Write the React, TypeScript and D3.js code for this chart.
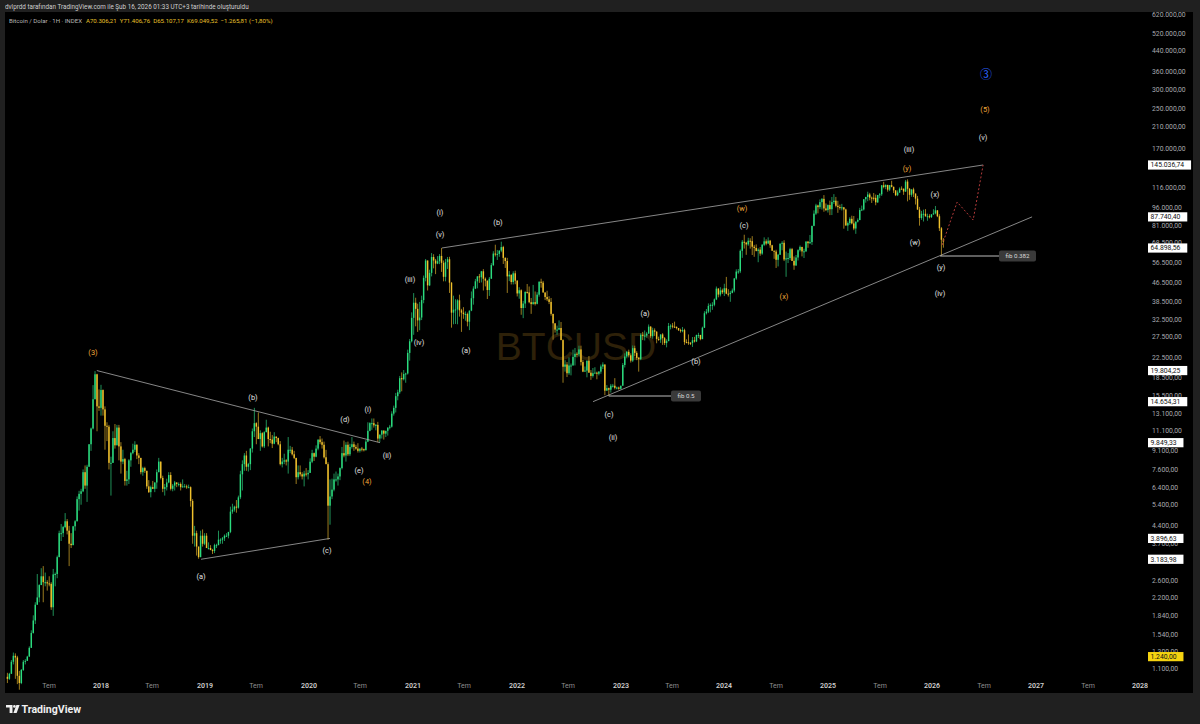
import React from 'react';
import * as d3 from 'd3';

type Week = [number, number, number]; // high, low, close

const FIRST_WEEK = Date.UTC(2017, 1, 6);
const FIRST_OPEN = 1020;

const w2017: Week[] = [
  [1060, 960, 1000], [1060, 990, 1050], [1200, 1050, 1180], [1290, 1150, 1250],
  [1280, 1000, 1230], [1250, 950, 1030], [1080, 900, 960], [1100, 950, 1090],
  [1200, 1080, 1180], [1210, 1150, 1190], [1250, 1190, 1240], [1370, 1240, 1350],
  [1600, 1350, 1560], [1850, 1550, 1760], [2100, 1700, 2050], [2760, 2050, 2200], [2500, 2100, 2480],
  [2920, 2480, 2700], [2980, 2100, 2550], [2800, 2450, 2550], [2600, 2350, 2520],
  [2700, 2450, 2510], [2550, 1950, 2000], [2900, 1840, 2750], [2800, 2450, 2760], [3300, 2650, 3250],
  [4200, 3250, 4100], [4480, 3800, 4100], [4400, 3950, 4350], [4980, 4300, 4600],
  [4700, 4050, 4200], [4400, 2980, 3700], [4100, 3550, 3650], [4400, 3650, 4380],
  [4650, 4200, 4600], [5850, 4600, 5700], [6180, 5100, 6000], [6300, 5400, 6150], [7600, 6100, 7400],
  [7900, 6300, 6500], [7950, 5550, 7800], [9700, 7800, 9700], [11400, 9100, 11300],
  [17200, 11200, 15000], [19700, 15000, 19100], [19200, 11000, 14000], [16500, 13400, 13800],
];
const w2018: Week[] = [
  [17250, 12800, 16400], [16500, 12800, 13600], [14000, 9200, 11600], [12000, 10000, 11500], [11700, 7600, 8100],
  [8600, 5900, 8100], [11000, 8100, 10300], [11800, 9300, 9600], [11700, 9600, 11400],
  [11700, 8300, 9500], [9900, 7300, 8200], [9200, 8000, 8400], [8500, 6500, 6800],
  [7500, 6500, 6900], [8400, 6600, 8300], [9000, 7800, 8900], [9750, 8800, 9200], [9990, 9000, 9650],
  [9700, 8400, 8700], [8900, 8000, 8500], [8500, 7250, 7400], [7800, 7150, 7700],
  [7800, 7350, 7500], [7000, 6300, 6450], [6850, 6050, 6100], [6500, 5800, 6400],
  [6800, 6300, 6300], [6700, 6100, 6700], [7600, 6300, 7400], [8500, 7400, 8200], [8200, 6900, 7000],
  [7150, 6100, 6300], [6600, 5900, 6400], [6950, 6200, 6700], [7400, 6650, 7200],
  [7400, 6200, 6300], [6600, 6150, 6500], [6800, 6200, 6700], [6700, 6400, 6600],
  [6700, 6450, 6600], [6700, 6200, 6400], [6900, 6380, 6450], [6600, 6400, 6450], [6560, 6300, 6400],
  [6560, 6350, 6400], [6450, 5300, 5600], [5700, 3700, 4000], [4400, 3600, 4100],
  [4200, 3300, 3600], [3600, 3200, 3250], [4200, 3250, 4000], [4250, 3600, 3700], [4100, 3650, 4000],
];
const w2019: Week[] = [
  [4100, 3550, 3550], [3750, 3500, 3550], [3650, 3480, 3480], [3520, 3350, 3450],
  [3700, 3380, 3650], [3700, 3550, 3650], [4200, 3650, 3850], [3900, 3700, 3850],
  [3950, 3700, 3900], [4050, 3800, 4000], [4100, 3950, 4000], [4150, 3900, 4150],
  [5300, 4100, 5050], [5450, 4950, 5150], [5350, 5050, 5300], [5650, 5000, 5250], [5900, 5200, 5800],
  [7500, 5700, 7250], [8300, 6200, 8000], [8900, 7500, 8700], [9100, 7500, 7800],
  [8100, 7450, 8000], [9350, 7550, 9300], [11300, 8950, 11000], [13800, 10400, 11900],
  [12000, 9700, 11500], [13200, 10200, 10200], [11100, 9100, 10800], [10900, 9400, 9500], [11000, 9350, 10900],
  [12300, 10900, 11400], [11500, 9500, 10200], [10950, 9800, 10150], [10600, 9350, 9750],
  [10900, 9700, 10450], [10450, 9900, 10300], [10350, 9600, 9700], [10000, 7900, 8000], [8500, 7750, 8200],
  [8850, 8000, 8300], [8400, 7900, 8200], [10400, 7300, 9200], [9550, 8900, 9200],
  [9450, 8700, 8800], [9100, 8400, 8500], [8500, 6600, 7050], [7900, 6900, 7400],
  [7900, 7100, 7250], [7400, 6900, 7100], [7500, 6450, 7300], [7700, 7100, 7250], [7550, 6900, 7350],
];
const w2020: Week[] = [
  [8460, 7700, 8190], [9190, 8080, 8900], [8950, 8250, 8600], [9600, 8550, 9300],
  [10150, 9150, 10150], [10500, 9700, 9900], [10250, 9300, 9650], [9950, 8450, 8550],
  [9190, 8400, 8000], [8150, 3850, 5350], [6900, 4450, 5850], [6950, 5700, 6250], [7300, 6150, 6900],
  [7450, 6750, 6900], [7300, 6500, 7100], [7750, 6850, 7700], [9450, 7600, 8900],
  [10050, 8550, 8700], [9900, 8200, 9650], [9950, 8650, 8800], [9750, 8650, 9450],
  [10400, 9300, 9700], [9950, 9100, 9450], [9650, 9200, 9300], [9800, 8950, 9100], [9300, 8950, 9300],
  [9450, 9050, 9250], [9300, 9050, 9150], [10100, 9150, 9950], [12000, 9900, 11050],
  [12000, 11000, 11900], [12450, 11150, 11900], [12450, 11400, 11650], [11800, 11100, 11700], [12050, 9900, 10250],
  [10600, 9900, 10650], [11100, 10250, 11080], [11000, 10150, 10750], [10950, 10400, 11050],
  [11450, 10550, 11380], [11700, 11200, 11500], [13350, 11400, 13050], [14100, 12800, 13800],
  [15950, 13200, 15450], [16450, 14850, 16050], [18800, 15800, 18400], [19450, 16200, 18200], [19900, 18000, 19150],
  [19400, 17600, 19250], [24250, 19050, 23500], [26900, 21800, 26300], [34800, 26000, 33000],
];
const w2021: Week[] = [
  [41950, 28000, 38200], [40100, 30400, 36000], [37850, 28800, 32200], [38500, 29250, 33100],
  [40900, 32300, 39200], [49700, 38000, 48600], [58350, 47000, 57500], [57500, 43000, 45200],
  [52600, 44900, 51000], [61800, 49300, 59500], [61100, 53300, 57500], [58400, 50400, 55800], [60000, 55500, 57100],
  [61200, 55500, 60100], [64900, 51500, 56200], [57500, 47000, 49100], [58400, 47000, 56600],
  [59500, 53000, 58200], [59600, 42000, 46400], [46600, 30000, 34700], [40900, 31000, 35700], [39500, 31100, 35800],
  [39500, 31000, 39100], [41300, 33400, 35500], [36000, 28800, 34700], [36600, 32700, 34200],
  [35100, 32100, 34250], [34700, 30400, 31800], [35400, 29300, 35400], [42600, 35200, 39900],
  [44800, 37500, 43800], [48100, 43600, 47000], [49400, 43900, 49300], [50500, 46300, 48900], [52000, 46500, 51800],
  [52900, 43000, 48200], [48800, 44750, 47300], [47400, 39600, 43200], [49000, 40800, 48200],
  [56100, 48200, 55000], [62900, 54500, 61500], [67000, 59800, 61000], [63700, 57800, 61300],
  [63400, 59600, 63300], [69000, 62300, 65500], [66300, 55600, 59000], [59300, 53500, 57200], [59000, 42000, 49300],
  [51900, 47100, 50100], [50200, 45600, 46700], [51800, 45600, 50800], [52100, 45700, 47300],
];
const w2022: Week[] = [
  [47500, 40600, 41800], [44400, 39700, 43100], [43500, 34000, 36300], [38900, 32900, 37900], [42700, 36300, 42400],
  [45800, 41700, 42200], [44700, 38000, 38400], [40000, 34300, 37700], [45400, 37500, 38400],
  [42600, 37200, 37800], [42300, 37600, 41300], [47000, 40500, 46800], [48200, 44200, 46400],
  [47200, 42100, 42200], [41500, 39200, 40400], [42900, 38800, 39500], [40700, 37700, 38500],
  [40000, 33700, 34300], [34300, 26700, 31300], [31300, 28600, 29450], [30600, 28000, 29450], [32200, 29300, 29900],
  [31700, 26600, 26600], [26800, 17600, 20550], [21900, 19600, 21000], [21500, 18600, 19300],
  [22500, 19000, 20800], [21200, 18900, 20800], [24250, 20800, 22600], [24650, 20800, 23300],
  [23650, 22500, 23200], [25200, 22700, 24300], [25200, 20800, 21500], [22000, 19500, 19600], [20600, 19600, 19800],
  [21800, 18550, 21800], [22800, 19400, 19400], [19900, 18100, 18800], [20300, 18500, 19300],
  [20450, 19300, 19400], [19600, 18200, 19200], [19700, 18900, 19600], [21000, 19200, 20600], [21450, 20100, 21000],
  [21000, 15600, 16300], [17200, 16300, 16700], [16800, 15480, 16450], [17400, 16000, 17100],
  [17400, 16800, 17100], [18400, 16500, 16750], [16950, 16500, 16800], [16950, 16450, 16600],
];
const w2023: Week[] = [
  [17100, 16500, 17100], [21300, 17100, 20900], [23400, 20400, 22700], [23950, 22300, 23750], [24250, 22500, 22950],
  [23400, 21400, 21800], [25250, 21500, 24600], [25200, 22800, 23500], [23900, 21900, 22400],
  [22600, 19600, 22100], [28400, 21900, 28000], [28800, 26600, 27800], [29200, 26500, 27800],
  [28800, 27250, 28350], [30950, 28200, 30300], [30450, 27150, 27600], [30000, 26950, 29250],
  [29800, 27700, 28850], [29000, 25800, 26900], [27500, 26400, 26750], [27500, 25900, 28100], [28450, 25400, 27100],
  [27400, 25350, 25850], [26800, 24800, 26350], [31400, 26300, 30500], [31000, 29500, 30600],
  [31400, 29800, 30300], [31800, 29950, 30250], [30350, 29500, 29900], [29900, 29050, 29300], [29700, 28600, 29050],
  [30200, 28700, 29300], [29700, 25400, 26100], [26800, 25800, 26050], [28100, 25400, 25900],
  [26100, 25350, 25850], [27400, 24900, 26550], [27450, 26000, 26250], [28050, 26100, 27950],
  [28550, 27150, 27950], [28000, 26550, 26850], [30300, 26900, 30000], [35200, 29900, 34500], [35950, 34100, 35050],
  [37950, 34550, 37050], [37950, 34800, 37400], [38400, 35650, 37450], [39800, 36900, 39450],
  [44700, 39200, 43800], [44000, 40250, 41350], [44400, 40600, 43050], [43800, 41550, 42250],
];
const w2024: Week[] = [
  [45900, 40750, 43950], [49050, 41500, 41700], [43550, 40550, 41550], [42850, 38550, 42050], [43850, 41850, 43000],
  [48550, 42250, 48300], [52800, 47700, 51650], [52950, 50550, 51750], [64000, 50900, 63150],
  [70150, 59000, 68950], [73800, 64550, 68400], [68900, 60750, 67200], [71650, 66300, 69650],
  [71350, 64500, 69350], [72800, 60650, 65700], [66900, 59600, 64950], [67200, 62800, 63100], [64750, 56550, 63900],
  [65500, 60200, 61500], [67450, 60750, 66950], [71950, 66100, 69250], [70600, 66650, 67750],
  [71950, 67650, 69650], [70200, 65050, 66650], [66950, 63350, 63200], [63350, 58450, 62700],
  [63800, 53500, 57900], [61300, 54300, 60800], [68000, 60700, 67600], [69350, 63500, 68250], [70000, 57200, 58100],
  [62700, 49100, 58700], [61800, 56100, 58900], [65000, 57800, 64200], [64950, 57200, 57300],
  [59800, 52550, 54800], [60650, 54600, 59200], [64100, 57500, 63550], [66500, 62700, 65600], [65550, 59850, 62800],
  [64450, 58900, 62850], [69400, 62450, 69000], [69500, 65050, 68000], [73600, 67450, 68750],
  [80250, 66850, 80450], [93450, 80200, 90550], [99600, 89400, 98000], [98700, 90800, 96400],
  [103900, 94600, 101200], [105250, 94150, 104450], [108350, 92200, 95200], [99950, 92800, 93700], [99000, 91500, 98350],
];
const w2025: Week[] = [
  [102700, 89250, 94500], [106400, 89300, 101300], [109350, 99450, 102600], [106450, 96200, 97700],
  [102500, 91250, 96500], [98800, 94100, 96100], [99500, 93400, 96250], [96500, 78250, 94250],
  [95000, 81500, 80700], [84000, 76600, 82600], [87450, 81200, 86100], [88750, 81600, 82350], [88500, 77150, 78400],
  [83600, 74450, 83800], [86450, 83100, 85050], [95750, 85100, 93750], [97900, 92800, 94300],
  [104150, 93350, 104100], [105800, 100700, 106450], [111950, 102150, 109000], [110700, 103000, 105700],
  [106800, 100400, 105600], [110600, 102700, 105500], [108900, 98200, 101000], [108500, 100400, 108400], [110500, 105100, 109200],
  [119500, 107500, 119100], [123200, 115700, 117300], [120250, 114700, 119450], [119800, 112000, 114200],
  [119300, 112650, 119300], [124450, 116800, 117400], [117600, 110600, 113450], [113500, 107300, 108250],
  [113400, 107300, 111150], [116800, 110600, 115300], [117900, 114500, 115250], [115500, 108600, 112150], [125500, 111800, 123500],
  [126200, 102000, 115150], [116000, 103500, 108650], [114000, 106600, 114500], [116400, 106300, 110000],
  [110000, 98900, 104700], [107500, 94000, 94200], [96650, 80600, 86800], [93000, 85300, 90400],
  [94100, 83900, 90400], [94600, 88000, 88200], [90500, 84500, 88300], [90000, 86500, 87700], [90000, 86800, 89900],
];
const w2026: Week[] = [
  [94500, 89500, 90800], [97500, 90000, 93500], [93500, 87500, 88300], [90000, 76500, 78600],
  [79500, 60107, 70300], [71406, 65107, 69049],
];

const priceTicks = [
  620000, 520000, 440000, 360000, 300000, 250000, 210000, 170000, 116000, 96000, 81000, 68500,
  56500, 46500, 38500, 32500, 27500, 22500, 18500, 15500, 13100, 11100, 9100, 7600, 6400, 5400,
  4400, 3700, 2600, 2200, 1840, 1540, 1300, 1100,
];

const axisTags = [
  { value: 145036.74, tone: 'white' },
  { value: 87740.4, tone: 'white' },
  { value: 64898.56, tone: 'white' },
  { value: 19804.25, tone: 'white' },
  { value: 14654.31, tone: 'white' },
  { value: 9849.33, tone: 'white' },
  { value: 3896.63, tone: 'white' },
  { value: 3183.98, tone: 'white' },
  { value: 1240, tone: 'yellow' },
];

// [decimal year, price, text, tone]
const waveLabels: [number, number, string, string][] = [
  [2017.923, 23700, '(3)', 'o'],
  [2019.463, 15320, '(b)', 'w'],
  [2020.348, 12380, '(d)', 'w'],
  [2020.57, 13640, '(i)', 'w'],
  [2020.753, 8735, '(ii)', 'w'],
  [2020.483, 7555, '(e)', 'w'],
  [2020.56, 6790, '(4)', 'o'],
  [2018.9625, 2706, '(a)', 'w'],
  [2020.175, 3481, '(c)', 'w'],
  [2021.263, 91950, '(i)', 'w'],
  [2021.263, 74320, '(v)', 'w'],
  [2021.821, 83480, '(b)', 'w'],
  [2020.974, 48060, '(iii)', 'w'],
  [2021.061, 26100, '(iv)', 'w'],
  [2021.513, 24160, '(a)', 'w'],
  [2023.236, 34570, '(a)', 'w'],
  [2023.727, 21710, '(b)', 'w'],
  [2022.889, 12990, '(c)', 'w'],
  [2022.928, 10400, '(ii)', 'w'],
  [2024.169, 95590, '(w)', 'o'],
  [2024.189, 81080, '(c)', 'w'],
  [2024.574, 40760, '(x)', 'o'],
  [2025.777, 169300, '(iii)', 'w'],
  [2025.757, 140800, '(y)', 'o'],
  [2026.027, 109500, '(x)', 'w'],
  [2025.834, 68780, '(w)', 'w'],
  [2026.085, 53980, '(y)', 'w'],
  [2026.075, 41970, '(iv)', 'w'],
  [2026.518, 346700, '③', 'b'],
  [2026.508, 249400, '(5)', 'o'],
  [2026.489, 190100, '(v)', 'w'],
];

const trendLines: [number, number, number, number][] = [
  [2017.96, 19804.25, 2020.685, 9849.33],
  [2018.9625, 3183.98, 2020.204, 3896.63],
  [2021.28, 64898.56, 2026.489, 145036.74],
  [2022.735, 14654.31, 2026.96, 87740.4],
];

const fibLines: [number, number, number, string][] = [
  [2022.886, 2023.49, 15476, 'fib 0.5'],
  [2026.075, 2026.643, 60107.17, 'fib 0.382'],
];

const projection: [number, number][] = [
  [2026.094, 66800], [2026.239, 101300], [2026.393, 85100], [2026.489, 145036.74],
];

const headerOHLC = [70306.21, 71406.76, 65107.17, 69049.52];
const headerLetters = ['A', 'Y', 'D', 'K'];
const headerChange = -1265.81;
const headerPct = -1.8;

const yearTicksFrom = 2017;
const yearTicksTo = 2028;

const W = 1200;
const H = 724;
const FONT = 'Roboto, "Noto Sans", "DejaVu Sans", sans-serif';

const trFmt = d3.formatLocale({ decimal: ',', thousands: '.', grouping: [3], currency: ['', ''] }).format(',.2f');

const fromYear = (y: number) => new Date(Date.UTC(2018, 0, 1) + (y - 2018) * 365.25 * 86400000);

export default function App() {
  const x = d3.scaleUtc().domain([new Date(Date.UTC(2018, 0, 1)), new Date(Date.UTC(2028, 0, 1))]).range([101, 1140]);
  const y = d3.scaleLog().domain([1100, 620000]).range([669, 15]);

  const weeks = [...w2017, ...w2018, ...w2019, ...w2020, ...w2021, ...w2022, ...w2023, ...w2024, ...w2025, ...w2026];
  const candles = weeks.map((w, i) => {
    const open = i === 0 ? FIRST_OPEN : weeks[i - 1][2];
    const close = w[2];
    return {
      date: d3.utcDay.offset(new Date(FIRST_WEEK), 7 * i),
      open,
      close,
      high: Math.max(w[0], open, close),
      low: Math.min(w[1], open, close),
    };
  });
  const step = x(d3.utcDay.offset(new Date(FIRST_WEEK), 7)) - x(new Date(FIRST_WEEK));
  const bw = Math.max(1, step * 0.72);

  const UP = '#2bdc7e';
  const DN = '#f0c12c';
  const UPW = '#1f8f57';
  const DNW = '#9a7a1e';

  const timeTicks = d3.utcMonth.range(new Date(Date.UTC(yearTicksFrom, 6, 1)), new Date(Date.UTC(yearTicksTo, 1, 1)), 6);

  const toneColor: Record<string, string> = { w: '#e2e2e2', o: '#f2a83a', b: '#2962ff' };

  const line = d3.line<[number, number]>().x((d) => x(fromYear(d[0]))).y((d) => y(d[1]));

  const approxW = (s: string, fs: number) => s.length * fs * 0.56;

  return (
    <svg
      width={W}
      height={H}
      style={{ position: 'absolute', left: 0, top: 0, display: 'block', WebkitFontSmoothing: 'antialiased' }}
      fontFamily={FONT}
    >
      <rect x={0} y={0} width={W} height={H} fill="#202020" />
      <rect x={5} y={12} width={1188} height={681} fill="#000" />

      {/* header */}
      <g opacity={0.999}>
        <text x={5} y={8.5} fontSize={6.3} fill="#cfcfcf">
          dvlprdd tarafından TradingView.com ile Şub 16, 2026 01:33 UTC+3 tarihinde oluşturuldu
        </text>
        <text x={9} y={23} fontSize={6.1} fill="#b5b5b5">
          <tspan>Bitcoin / Dolar · 1H · INDEX</tspan>
          {headerOHLC.map((v, i) => (
            <tspan key={i} dx={i === 0 ? 4 : 3} fill="#e9c02a">
              {headerLetters[i]}{trFmt(v)}
            </tspan>
          ))}
          <tspan dx={3} fill="#e9c02a">
            {trFmt(headerChange)} ({trFmt(headerPct)}%)
          </tspan>
        </text>
      </g>

      {/* watermark */}
      <text x={576} y={360} textAnchor="middle" fontSize={39} fontFamily='"Liberation Sans", Arial, sans-serif' fill="#2e2109">
        BTCUSD
      </text>

      {/* candles */}
      <g>
        {candles.map((c, i) => {
          const cx = x(c.date);
          const up = c.close >= c.open;
          const top = y(Math.max(c.open, c.close));
          const bot = y(Math.min(c.open, c.close));
          return (
            <g key={i}>
              <line x1={cx} x2={cx} y1={y(c.high)} y2={y(c.low)} stroke={up ? UPW : DNW} strokeWidth={1} />
              <rect x={cx - bw / 2} y={top} width={bw} height={Math.max(1, bot - top)} fill={up ? UP : DN} />
            </g>
          );
        })}
      </g>

      {/* trend lines */}
      {trendLines.map((t, i) => (
        <line key={i} x1={x(fromYear(t[0]))} y1={y(t[1])} x2={x(fromYear(t[2]))} y2={y(t[3])} stroke="#a8a8a8" strokeWidth={0.8} />
      ))}

      {/* projection */}
      <path d={line(projection) || ''} fill="none" stroke="#b23a3a" strokeWidth={1} strokeDasharray="2,2" />

      {/* fib lines */}
      <g opacity={0.999}>
        {fibLines.map((f, i) => {
          const x0 = x(fromYear(f[0]));
          const x1 = Math.round(x(fromYear(f[1])));
          const yy = Math.round(y(f[2]));
          const tw = Math.round(approxW(f[3], 6.2) + 6);
          return (
            <g key={i}>
              <line x1={x0} x2={x1} y1={yy} y2={yy} stroke="#bdbdbd" strokeWidth={1} />
              <rect x={x1} y={yy - 5.5} width={tw} height={11} rx={2} fill="#3a3a3a" />
              <text x={x1 + tw / 2} y={yy} dy="0.35em" textAnchor="middle" fontSize={6.2} fill="#d9d9d9">
                {f[3]}
              </text>
            </g>
          );
        })}
      </g>

      {/* wave labels */}
      <g opacity={0.999}>
        {waveLabels.map((l, i) => (
          <text
            key={i}
            x={Math.round(x(fromYear(l[0])))}
            y={Math.round(y(l[1]))}
            dy="0.35em"
            textAnchor="middle"
            fontSize={l[3] === 'b' ? 12 : 7.4}
            fontFamily={l[3] === 'b' ? '"Noto Sans CJK JP", "DejaVu Sans", sans-serif' : FONT}
            fill={toneColor[l[3]]}
          >
            {l[2]}
          </text>
        ))}
      </g>

      {/* price axis */}
      <g opacity={0.999}>
        {priceTicks.map((p) => (
          <text key={p} x={1152} y={y(p)} dy="0.35em" fontSize={6.8} fill="#a7a9ae">
            {trFmt(p)}
          </text>
        ))}
        {axisTags.map((t) => {
          const s = trFmt(t.value);
          const tw = approxW(s, 6.8) + 5;
          return (
            <g key={t.value}>
              <rect x={1148} y={y(t.value) - 4.6} width={tw} height={9.2} fill={t.tone === 'yellow' ? '#f5d310' : '#ffffff'} />
              <text x={1150.5} y={y(t.value)} dy="0.35em" fontSize={6.8} fill="#131313">
                {s}
              </text>
            </g>
          );
        })}
      </g>

      {/* time axis */}
      <g opacity={0.999}>
        {timeTicks.map((d) => {
          const isYear = d.getUTCMonth() === 0;
          return (
            <text
              key={d.getTime()}
              x={Math.round(x(d))}
              y={686}
              dy="0.35em"
              textAnchor="middle"
              fontSize={7}
              fontWeight={isYear ? 600 : 400}
              fill={isYear ? '#cfcfcf' : '#8e8e8e'}
            >
              {isYear ? String(d.getUTCFullYear()) : 'Tem'}
            </text>
          );
        })}
      </g>

      {/* footer logo */}
      <g fill="#f0f0f0">
        <path d="M6 705 H12.5 V713 H9.6 V707.6 H6 Z" />
        <circle cx={14.4} cy={706.4} r={1.35} />
        <path d="M16.4 705 H19.6 L16.6 713 H13.4 Z" />
      </g>
      <text x={21.5} y={712.5} fontSize={10.6} fontWeight={700} fill="#f0f0f0">
        TradingView
      </text>
    </svg>
  );
}
